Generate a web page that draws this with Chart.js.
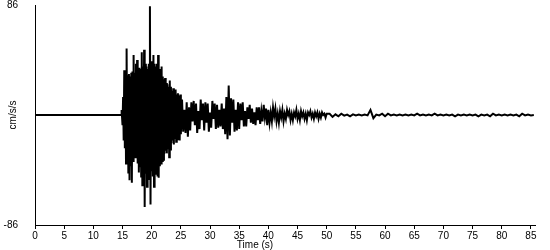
<!DOCTYPE html>
<html>
<head>
<meta charset="utf-8">
<script src="https://cdn.jsdelivr.net/npm/chart.js@4"></script>
<style>
  html, body { margin: 0; padding: 0; background: #fff; }
  #wrap { width: 550px; height: 250px; }
</style>
</head>
<body>
<div id="wrap"><canvas id="chart"></canvas></div>
<script>
// acceleration record, cm/s/s
const preEventTimes = [0, 14.8];
const preEventAccel = [0, 0];

// onset + strongest shaking, sampled every 0.1 s from 14.8 s
const strongStart = 14.8;
const strongStep = 0.1;
const strongAccel = [
  0, 4,
  -8, 14, -20, 35, -26, 30, -38, 52, -32, 31,
  -45, 32, -51, 30, -40, 33, -53, 34, -36, 47,
  -30, 33, -33, 40, -28, 43, -38, 35, -45, 37,
  -40, 36, -48, 49, -55, 38, -44, 51, -72, 40,
  -46, 38, -56, 36, -42, 40, -50, 85, -70, 42,
  -44, 39, -48, 47, -56, 40, -42, 38, -46, 40,
  -48, 47, -49, 36, -40, 34, -38, 38, -36, 30,
  -35, 28, -30, 29, -28, 25, -30, 24, -26, 22,
  -33, 27, -27, 22, -22, 19, -20, 21, -23, 18,
  -18, 20, -21, 16, -19, 17, -17, 15, -20, 16,
  -15
];

// decaying part, sampled every 0.2 s from 25.2 s
const decayStart = 25.2;
const decayStep = 0.2;
const decayAccel = [
  12, -13, 4, -14, 10,
  -17, 6, -12, 10, -5,
  11, -8, 9, -14, 3,
  -11, 12, -4, 9, -12,
  10, -6, 9, -13, 2,
  -10, 11, -3, 9, -11,
  8, -10, 4, -9, 9,
  -11, 5, -15, 14, -19,
  23, -16, 13, -6, 12,
  -13, 4, -12, 10, -11,
  9, -4, 10, -9, 3,
  -9, 6, -3, 8, -6,
  5, -7, 2, -8, 6,
  -4, 6, -7, 3, -5,
  8, -2, 5, -8, 4,
  -6, 2, -5, 6, -1,
  5, -5, 1, -6, 3,
  -2, 4, -5, 1, -3,
  4, 0, 3, -4, 1,
  -4, 2, -1, 4, -3,
  1, -4, 3, -1, 2,
  -3, 1, -4, 2, 0,
  3, -2, 1, -3, 2,
  -1, 2, -3, 1, -2,
  2, 0, 1, -2, 1
];

// coda, sampled every 0.5 s from 50.5 s
const codaStart = 50.5;
const codaStep = 0.5;
const codaAccel = [
  1, -1.5, 0.5, -1, 1, -0.5, 0.3, -1, 0.5, -0.3,
  0.3, -0.3, 0.3, -0.3, 4, -2.5, 0.3, -0.3, 1, -1,
  1, -0.3, 0.3, -0.3, 0.3, -0.3, 0.3, -0.3, 0.3, -0.3,
  1, -0.3, 0.3, -0.3, 0.3, -0.3, 1, -0.3, 0.3, -0.3,
  0.3, -0.3, 0.3, -1, 0.3, -0.3, 0.3, -0.3, 0.3, -0.3,
  0.3, -1, 0.3, -0.3, 0.3, -1, 1, -0.3, 0.3, -0.3,
  0.3, -0.3, 0.3, -0.3, 0.3, -1, 1, -0.3, 0.3, -0.3,
  0
];

const xTicksStep = 5;
const timeMax = 85.7;
const accelMax = 86;
const xTitle = 'Time (s)';

const points = [];
preEventTimes.forEach((t, i) => points.push({ x: t, y: preEventAccel[i] }));
strongAccel.forEach((v, i) => points.push({ x: strongStart + i * strongStep, y: v }));
decayAccel.forEach((v, i) => points.push({ x: decayStart + i * decayStep, y: v }));
codaAccel.forEach((v, i) => points.push({ x: codaStart + i * codaStep, y: v }));

const font = { family: 'Liberation Sans, Arial, sans-serif', size: 10 };

// x title sits left of centre in the original, so draw it ourselves
const xTitlePlugin = {
  id: 'xTitle',
  afterDraw(chart) {
    const { ctx, chartArea } = chart;
    ctx.save();
    ctx.font = '10px ' + font.family;
    ctx.fillStyle = '#000';
    ctx.textAlign = 'center';
    ctx.textBaseline = 'middle';
    ctx.fillText(xTitle, (chartArea.left + chartArea.right) / 2 - 30, 245);
    ctx.restore();
  }
};

new Chart(document.getElementById('chart'), {
  type: 'line',
  data: {
    datasets: [{
      data: points,
      borderColor: '#000',
      borderWidth: 2,
      pointRadius: 0,
      tension: 0,
      fill: false
    }]
  },
  options: {
    responsive: true,
    maintainAspectRatio: false,
    animation: false,
    events: [],
    layout: { padding: { top: 0, right: 15, bottom: 0, left: 0 } },
    plugins: { legend: { display: false }, tooltip: { enabled: false } },
    scales: {
      x: {
        type: 'linear',
        min: 0,
        max: timeMax,
        afterFit: s => { s.height = 25; },
        grid: { display: true, drawOnChartArea: false, drawTicks: true, tickLength: 4, color: '#000' },
        border: { display: true, color: '#000', width: 1 },
        ticks: { stepSize: xTicksStep, includeBounds: false, color: '#000', font: font, padding: 1, maxRotation: 0 }
      },
      y: {
        min: -accelMax,
        max: accelMax,
        afterFit: s => { s.width = 35; },
        afterBuildTicks: s => { s.ticks = [{ value: -accelMax }, { value: accelMax }]; },
        grid: { display: false, tickLength: 17 },
        border: { display: true, color: '#000', width: 1 },
        ticks: { color: '#000', font: { ...font, lineHeight: 1 }, padding: 0 },
        title: { display: true, text: 'cm/s/s', color: '#000', font: { ...font, lineHeight: 1 }, padding: { top: 8, bottom: 0 } }
      }
    }
  },
  plugins: [xTitlePlugin]
});
</script>
</body>
</html>
